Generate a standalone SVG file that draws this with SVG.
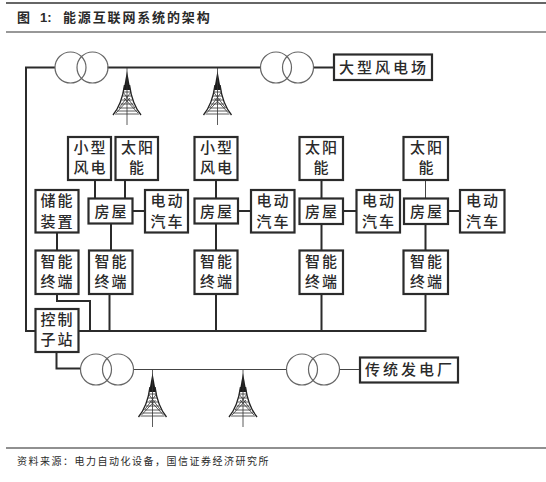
<svg xmlns="http://www.w3.org/2000/svg" xmlns:xlink="http://www.w3.org/1999/xlink" width="546" height="482" viewBox="0 0 546 482">
<style>
text{font-family:"Noto Sans CJK SC","Noto Sans",sans-serif;fill:#2a2a2a}
.b{fill:#fff;stroke:#2b2b2b;stroke-width:2.2}
.t{font-size:15px;letter-spacing:2px;text-anchor:middle;font-weight:500}
.c{fill:none;stroke:#2b2b2b;stroke-width:2}
.n{fill:none;stroke:#444;stroke-width:1}
.r{fill:none;stroke:#666;stroke-width:1.2}
.tw{fill:none;stroke:#333;stroke-width:.8}
</style>
<defs>
<g id="tower">
<path d="M0 3L-3.500 22L3.500 22Z" fill="#1c1c1c"/>
<path d="M-2.500 17Q-5 36 -14 47M2.500 17Q5 36 14 47" fill="none" stroke="#222" stroke-width="1.400"/>
<path class="tw" d="M0 0V57M-4 24H4M-4.500 28H4.500M-5.500 32H5.500M-6.500 36H6.500M-8 40H8M-10 43H10M-12 46H12M-11 45L3 30M11 45L-3 30M-8 40L4 24M8 40L-4 24"/>
</g>
<g id="xf"><circle cx="0" cy="0" r="15.500" class="r"/><circle cx="22" cy="0" r="15.500" class="r"/></g>
</defs>
<rect x="0" y="0" width="546" height="482" fill="#fff"/>
<rect x="6" y="2" width="540" height="2" fill="#666"/>
<rect x="6" y="31.500" width="540" height="1" fill="#333"/>
<rect x="6" y="447.500" width="540" height="1" fill="#222"/>
<text x="17" y="22" font-size="13" font-weight="700">图</text>
<text x="40" y="22" font-size="13" font-weight="700" style="font-family:'Liberation Sans',sans-serif">1:</text>
<text x="63" y="22" font-size="13" font-weight="700" letter-spacing="1.850">能源互联网系统的架构</text>
<text x="17" y="465" font-size="10" letter-spacing="1.500">资料来源：电力自动化设备，国信证券经济研究所</text>

<g id="connectors">
<path class="c" d="M55 67.500H26V331H36"/>
<path class="c" d="M107.500 67.500H260.500"/>
<path class="c" d="M313.500 67.500H334"/>
<path class="c" d="M78 331H425.500V294"/>
<path class="c" d="M57 232V251M57 294V301H90V331M109.500 294V331M216 294V331M321.500 294V331"/>
<path class="c" d="M95 180V198M125 180V198M111 223V251M132 211H145"/>
<path class="c" d="M216 180V198M216 223V251M238 211H251"/>
<path class="c" d="M321.500 180V198M321.500 224V251M343 211H357"/>
<path class="n" d="M425.500 180V198"/>
<path class="c" d="M425.500 224V251M448 211H460"/>
<path class="c" d="M56.500 352V368.500H80"/>
<path class="n" d="M133 369.500H286M340 369.500H360"/>
</g>

<g id="xf1"><use href="#xf" x="70.500" y="67.500"/></g>
<g id="xf2"><use href="#xf" x="276" y="67.500"/></g>
<g id="xf3"><use href="#xf" x="96" y="369.500"/></g>
<g id="xf4"><use href="#xf" x="302" y="369.500"/></g>
<g id="tower1"><use href="#tower" x="127" y="68"/></g>
<g id="tower2"><use href="#tower" x="217.500" y="68"/></g>
<g id="tower3"><use href="#tower" x="152.500" y="370"/></g>
<g id="tower4"><use href="#tower" x="243" y="370"/></g>

<g id="n-wind"><rect class="b" x="334" y="54.500" width="98" height="25.500"/><text class="t" x="384" y="73" style="letter-spacing:3px">大型风电场</text></g>
<g id="n-plant"><rect class="b" x="360" y="357.500" width="98" height="25"/><text class="t" x="410" y="375" style="letter-spacing:3px">传统发电厂</text></g>

<g id="n-w1"><rect class="b" x="68" y="137" width="43" height="43"/><text class="t" x="90.500" y="152.500">小型</text><text class="t" x="90.500" y="172.500">风电</text></g>
<g id="n-s1"><rect class="b" x="115.500" y="137" width="42.500" height="43"/><text class="t" x="138" y="152.500">太阳</text><text class="t" x="137.500" y="172.500">能</text></g>
<g id="n-st"><rect class="b" x="35.500" y="190" width="43" height="42.500"/><text class="t" x="57.500" y="205.500">储能</text><text class="t" x="57.500" y="226.500">装置</text></g>
<g id="n-h1"><rect class="b" x="88.500" y="198.500" width="44" height="25"/><text class="t" x="111.500" y="216.500">房屋</text></g>
<g id="n-e1"><rect class="b" x="145" y="190" width="43" height="42.500"/><text class="t" x="167.500" y="205.500">电动</text><text class="t" x="167.500" y="226.500">汽车</text></g>

<g id="n-w2"><rect class="b" x="194.500" y="137" width="43" height="43"/><text class="t" x="217" y="152.500">小型</text><text class="t" x="217" y="172.500">风电</text></g>
<g id="n-h2"><rect class="b" x="194.500" y="198.500" width="43.500" height="25"/><text class="t" x="217" y="216.500">房屋</text></g>
<g id="n-e2"><rect class="b" x="251" y="190" width="43.500" height="42.500"/><text class="t" x="273.500" y="205.500">电动</text><text class="t" x="273.500" y="226.500">汽车</text></g>

<g id="n-s3"><rect class="b" x="299.500" y="137" width="43.500" height="43"/><text class="t" x="322" y="152.500">太阳</text><text class="t" x="322" y="172.500">能</text></g>
<g id="n-h3"><rect class="b" x="299.500" y="198.500" width="43.500" height="25.500"/><text class="t" x="322" y="216.500">房屋</text></g>
<g id="n-e3"><rect class="b" x="356.500" y="190" width="43.500" height="42.500"/><text class="t" x="379" y="205.500">电动</text><text class="t" x="379" y="226.500">汽车</text></g>

<g id="n-s4"><rect class="b" x="403.500" y="137" width="44.500" height="43"/><text class="t" x="427" y="152.500">太阳</text><text class="t" x="427" y="172.500">能</text></g>
<g id="n-h4"><rect class="b" x="404" y="198.500" width="44" height="25.500"/><text class="t" x="427" y="216.500">房屋</text></g>
<g id="n-e4"><rect class="b" x="460" y="190" width="44.500" height="42.500"/><text class="t" x="483" y="205.500">电动</text><text class="t" x="483" y="226.500">汽车</text></g>

<g id="n-t0"><rect class="b" x="35.500" y="250.500" width="43" height="43.500"/><text class="t" x="57.500" y="267">智能</text><text class="t" x="57.500" y="287">终端</text></g>
<g id="n-t1"><rect class="b" x="89" y="250.500" width="43.500" height="43.500"/><text class="t" x="111.500" y="267">智能</text><text class="t" x="111.500" y="287">终端</text></g>
<g id="n-t2"><rect class="b" x="194.500" y="250.500" width="43" height="43.500"/><text class="t" x="217" y="267">智能</text><text class="t" x="217" y="287">终端</text></g>
<g id="n-t3"><rect class="b" x="299.500" y="250.500" width="43.500" height="43.500"/><text class="t" x="322" y="267">智能</text><text class="t" x="322" y="287">终端</text></g>
<g id="n-t4"><rect class="b" x="403.500" y="250.500" width="44.500" height="43.500"/><text class="t" x="427" y="267">智能</text><text class="t" x="427" y="287">终端</text></g>
<g id="n-ctl"><rect class="b" x="35.500" y="309" width="43" height="43"/><text class="t" x="57.500" y="325">控制</text><text class="t" x="57.500" y="345">子站</text></g>
</svg>
